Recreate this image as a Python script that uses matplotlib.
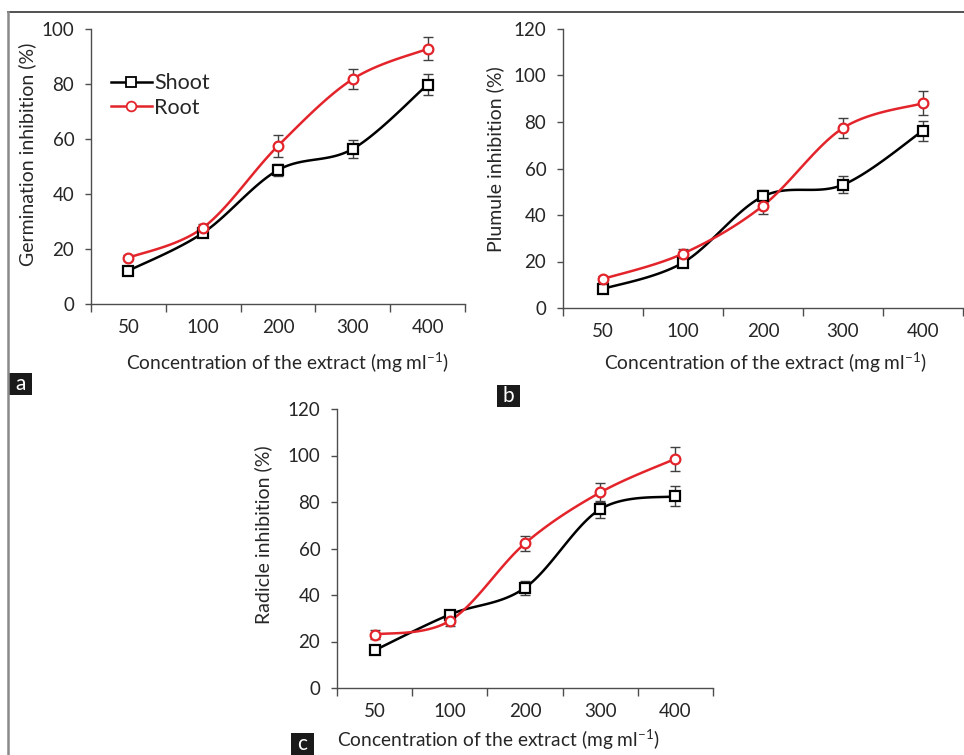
import matplotlib
matplotlib.use("Agg")
import matplotlib.pyplot as plt
import numpy as np
from matplotlib.lines import Line2D
from matplotlib.patches import Rectangle

W, H = 964, 755

plt.rcParams["font.family"] = ["Lato", "DejaVu Sans"]
plt.rcParams["mathtext.fontset"] = "custom"
plt.rcParams["mathtext.rm"] = "Lato"

concentrations = ["50", "100", "200", "300", "400"]

germ_shoot = [12.1, 25.9, 48.7, 56.4, 79.8]
germ_shoot_err = [1.0, 1.5, 2.1, 3.2, 3.7]
germ_root = [16.8, 27.8, 57.5, 81.8, 92.8]
germ_root_err = [0.9, 1.2, 3.9, 3.5, 4.2]

plum_shoot = [8.2, 19.5, 48.0, 53.0, 76.3]
plum_shoot_err = [1.3, 1.9, 2.7, 3.6, 4.3]
plum_root = [12.5, 23.4, 44.0, 77.4, 88.1]
plum_root_err = [1.3, 1.8, 3.4, 4.3, 5.2]

rad_shoot = [16.2, 31.6, 43.1, 76.9, 82.5]
rad_shoot_err = [1.0, 1.5, 2.9, 3.6, 4.3]
rad_root = [23.0, 28.9, 62.2, 84.1, 98.6]
rad_root_err = [1.8, 2.4, 3.1, 4.0, 5.1]

TXT = "#262626"
AX = "#4d4d4d"
RED = "#e3242b"


def px(x0, y0, x1, y1):
    # pixel box (top-left origin) -> figure fraction rect
    return [x0 / W, 1 - y1 / H, (x1 - x0) / W, (y1 - y0) / H]


def smooth(xs, ys, n=30):
    # Excel-style smoothed line through the points (Bezier, 1/6 tension)
    p = np.column_stack([xs, ys]).astype(float)
    out = [p[0]]
    for i in range(len(p) - 1):
        p0 = p[max(i - 1, 0)]
        p1 = p[i]
        p2 = p[i + 1]
        p3 = p[min(i + 2, len(p) - 1)]
        c1 = p1 + (p2 - p0) / 6
        c2 = p2 - (p3 - p1) / 6
        t = np.linspace(0, 1, n)[1:, None]
        seg = ((1 - t) ** 3) * p1 + 3 * ((1 - t) ** 2) * t * c1 + 3 * (1 - t) * t ** 2 * c2 + t ** 3 * p2
        out.extend(seg)
    out = np.array(out)
    return out[:, 0], out[:, 1]


def panel(rect, ymax, shoot, shoot_err, root, root_err):
    ax = fig.add_axes(rect)
    x = np.arange(len(concentrations)) + 0.5
    for vals, err, color, marker in ((shoot, shoot_err, "black", "s"),
                                     (root, root_err, RED, "o")):
        sx, sy = smooth(x, vals)
        ax.plot(sx, sy, color=color, lw=1.8, zorder=2)
        ax.errorbar(x, vals, yerr=err, fmt="none", ecolor="#404040",
                    elinewidth=1.0, capsize=3.5, capthick=1.0, zorder=3)
        ax.plot(x, vals, ls="none", marker=marker, ms=7, mfc="white",
                mec=color, mew=1.6, zorder=4)
    ax.set_xlim(0, len(concentrations))
    ax.set_ylim(0, ymax)
    ax.set_yticks(np.arange(0, ymax + 1, 20))
    ax.set_xticks(np.arange(len(concentrations) + 1))
    ax.set_xticklabels([])
    ax.set_xticks(x, minor=True)
    ax.set_xticklabels(concentrations, minor=True)
    ax.tick_params(axis="x", which="major", length=5.5, width=1.0, color=AX, direction="out")
    ax.tick_params(axis="x", which="minor", length=0, pad=11, labelsize=13.5, labelcolor=TXT)
    ax.tick_params(axis="y", length=4, width=1.0, color=AX, pad=8, labelsize=13.5, labelcolor=TXT)
    for s in ("top", "right"):
        ax.spines[s].set_visible(False)
    for s in ("left", "bottom"):
        ax.spines[s].set_color(AX)
        ax.spines[s].set_linewidth(1.0)
    ax.patch.set_alpha(0)
    return ax


def label_box(x0, y0, letter, h=22):
    fig.add_artist(Rectangle((x0 / W, 1 - (y0 + h) / H), 23 / W, h / H,
                             transform=fig.transFigure, fc="#1a1a1a", ec="none"))
    fig.text((x0 + 11.5) / W, 1 - (y0 + 11) / H, letter, color="white", fontsize=15,
             ha="center", va="center")


fig = plt.figure(figsize=(W / 100, H / 100), dpi=100)

# frame lines
fig.add_artist(Line2D([8 / W, 1], [1 - 12 / H] * 2, color="#333333", lw=1.2))
fig.add_artist(Line2D([8 / W] * 2, [0, 1 - 12 / H], color="#8a8a8a", lw=1.8))

ax_a = panel(px(91, 29, 465, 304), 100, germ_shoot, germ_shoot_err, germ_root, germ_root_err)
ax_b = panel(px(563, 29, 963, 308), 120, plum_shoot, plum_shoot_err, plum_root, plum_root_err)
ax_c = panel(px(337, 409, 713, 688), 120, rad_shoot, rad_shoot_err, rad_root, rad_root_err)

handles = [
    Line2D([], [], color="black", lw=1.8, marker="s", ms=7, mfc="white", mec="black", mew=1.3),
    Line2D([], [], color=RED, lw=1.8, marker="o", ms=7, mfc="white", mec=RED, mew=1.3),
]
ax_a.legend(handles, ["Shoot", "Root"], loc="upper left", bbox_to_anchor=(0.03, 0.87),
            frameon=False, fontsize=15.5, handlelength=1.9, handletextpad=0.1,
            labelspacing=0.2, borderaxespad=0, labelcolor=TXT)

xlab = "Concentration of the extract (mg ml$^{\\mathregular{-1}}$)"
fig.text(287 / W, 1 - 363 / H, xlab, ha="center", va="center", fontsize=13.8, color=TXT)
fig.text(765 / W, 1 - 363 / H, xlab, ha="center", va="center", fontsize=13.8, color=TXT)
fig.text(498 / W, 1 - 740 / H, xlab, ha="center", va="center", fontsize=13.8, color=TXT)

fig.text(27 / W, 1 - 154 / H, "Germination inhibition (%)", rotation=90,
         ha="center", va="center", fontsize=14, color=TXT)
fig.text(495 / W, 1 - 159 / H, "Plumule inhibition (%)", rotation=90,
         ha="center", va="center", fontsize=14, color=TXT)
fig.text(263 / W, 1 - 535 / H, "Radicle inhibition (%)", rotation=90,
         ha="center", va="center", fontsize=14, color=TXT)

label_box(9, 373, "a")
label_box(497, 385, "b")
label_box(291, 733, "c")

fig.savefig("out.png", dpi=100, facecolor="white")
